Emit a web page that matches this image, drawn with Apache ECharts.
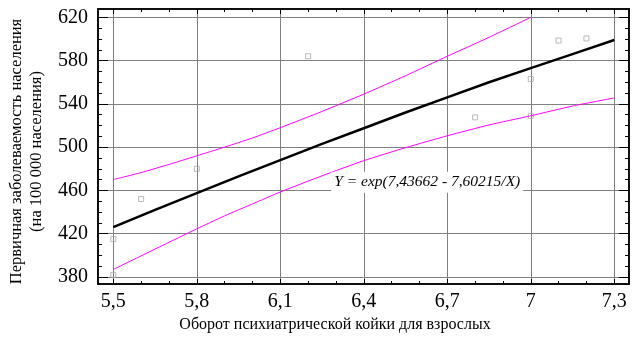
<!DOCTYPE html>
<html>
<head>
<meta charset="utf-8">
<script src="https://cdn.jsdelivr.net/npm/echarts@6/dist/echarts.min.js"></script>
<style>
  html, body { margin: 0; padding: 0; background: #fff; }
  #chart { width: 638px; height: 340px; }
</style>
</head>
<body>
<div id="chart"></div>
<script>
// tick values
const X_MAJOR = [5.5, 5.8, 6.1, 6.4, 6.7, 7.0, 7.3]
const X_MINOR = [5.6, 5.7, 5.9, 6.0, 6.2, 6.3, 6.5, 6.6, 6.8, 6.9, 7.1, 7.2]
const Y_MAJOR = [380, 420, 460, 500, 540, 580, 620]
const Y_MINOR = [390, 400, 410, 430, 440, 450, 470, 480, 490, 510, 520, 530, 550, 560, 570, 590, 600, 610]

// observed points
const OBS_X = [5.5, 5.5, 5.6, 5.8, 6.2, 6.8, 7.0, 7.0, 7.1, 7.2]
const OBS_Y = [415, 382, 452, 480, 584, 527.5, 563, 529, 598.5, 600.5]

// fitted curve
const FIT_X = [5.5, 5.65, 5.8, 5.95, 6.1, 6.25, 6.4, 6.55, 6.7, 6.85, 7.0, 7.15, 7.3]
const FIT_Y = [426, 442, 457.5, 473, 488, 503, 517.5, 532, 546, 560, 573, 586, 599]

// confidence bands
const UP_X = [5.5, 5.6, 5.7, 5.8, 5.9, 6.0, 6.1, 6.25, 6.4, 6.55, 6.7, 6.85, 7.0]
const UP_Y = [470, 476.5, 484, 492, 500, 508.5, 518, 533, 549, 566, 584, 601.5, 620]
const LOW_X = [5.5, 5.6, 5.7, 5.8, 5.9, 6.0, 6.1, 6.25, 6.4, 6.55, 6.7, 6.85, 7.0, 7.15, 7.3]
const LOW_Y = [387, 399.5, 412, 424.5, 436.5, 447.5, 458.5, 473.5, 487.5, 499.5, 510.5, 520.5, 529, 538, 545.5]

const EQUATION = 'Y = exp(7,43662 - 7,60215/X)'
const EQ_AT = [6.628, 467.5]

const X_NAME = 'Оборот психиатрической койки для взрослых'
const Y_NAME = 'Первичная заболеваемость населения\n(на 100 000 населения)'

const zip = (xs, ys) => xs.map((x, i) => [x, ys[i]])
const comma = (v) => String(v).replace('.', ',')

const FONT = 'Liberation Serif'
const X_MIN = 5.445, X_MAX = 7.353
const Y_MIN = 373.5, Y_MAX = 627.7

function xAxis(position, values, len, extra) {
  return Object.assign({
    type: 'value', position, min: X_MIN, max: X_MAX,
    axisLine: { show: true, onZero: false, lineStyle: { color: '#000', width: 1.5 } },
    axisTick: { show: true, inside: true, length: len, customValues: values, lineStyle: { color: '#000' } },
    axisLabel: { show: false },
    splitLine: { show: false },
  }, extra)
}
function yAxis(position, values, len, extra) {
  return Object.assign({
    type: 'value', position, min: Y_MIN, max: Y_MAX,
    axisLine: { show: true, onZero: false, lineStyle: { color: '#000', width: 1.5 } },
    axisTick: { show: true, inside: true, length: len, customValues: values, lineStyle: { color: '#000' } },
    axisLabel: { show: false },
    splitLine: { show: false },
  }, extra)
}

const chart = echarts.init(document.getElementById('chart'))
chart.setOption({
  animation: false,
  backgroundColor: '#fff',
  grid: { left: 98, right: 9, top: 9, bottom: 56, outerBoundsMode: 'none' },
  xAxis: [
    xAxis('bottom', X_MAJOR, 5, {
      axisLabel: { show: true, customValues: X_MAJOR, formatter: comma, fontFamily: FONT, fontSize: 20, color: '#000', margin: 8 },
      splitLine: { show: true, lineStyle: { color: '#808080', width: 1 } },
      name: X_NAME, nameLocation: 'middle', nameGap: 31,
      nameTextStyle: { fontFamily: FONT, fontSize: 16, color: '#000', padding: [0, 57, 0, 0] },
    }),
    xAxis('bottom', X_MINOR, 3),
    xAxis('top', X_MAJOR, 5),
    xAxis('top', X_MINOR, 3),
  ],
  yAxis: [
    yAxis('left', Y_MAJOR, 10, {
      axisLabel: { show: true, customValues: Y_MAJOR, fontFamily: FONT, fontSize: 20, color: '#000', margin: 10 },
      splitLine: { show: true, lineStyle: { color: '#808080', width: 1 } },
      name: Y_NAME, nameLocation: 'middle', nameGap: 50,
      nameTextStyle: { fontFamily: FONT, fontSize: 16.5, color: '#000', lineHeight: 20, padding: [0, 10, 0, 0] },
    }),
    yAxis('left', Y_MINOR, 4),
    yAxis('right', Y_MAJOR, 10),
    yAxis('right', Y_MINOR, 4),
  ],
  series: [
    {
      name: 'upper', type: 'line', data: zip(UP_X, UP_Y), showSymbol: false, smooth: 0.2,
      lineStyle: { color: '#ff00ff', width: 1 },
    },
    {
      name: 'lower', type: 'line', data: zip(LOW_X, LOW_Y), showSymbol: false, smooth: 0.2,
      lineStyle: { color: '#ff00ff', width: 1 },
    },
    {
      name: 'fit', type: 'line', data: zip(FIT_X, FIT_Y), showSymbol: false,
      lineStyle: { color: '#000', width: 2.5 },
    },
    {
      name: 'observed', type: 'scatter', data: zip(OBS_X, OBS_Y),
      symbol: 'rect', symbolSize: 5,
      itemStyle: { color: 'rgba(0,0,0,0)', borderColor: '#a8a8a8', borderWidth: 1 },
      markPoint: {
        symbol: 'circle', symbolSize: 1,
        itemStyle: { color: 'rgba(0,0,0,0)' },
        label: {
          show: true, position: 'inside', formatter: EQUATION,
          fontFamily: FONT, fontStyle: 'italic', fontSize: 15.5, color: '#000',
          backgroundColor: '#fff', padding: [3, 3, 2, 3],
        },
        data: [{ coord: EQ_AT }],
      },
    },
  ],
})
</script>
</body>
</html>
